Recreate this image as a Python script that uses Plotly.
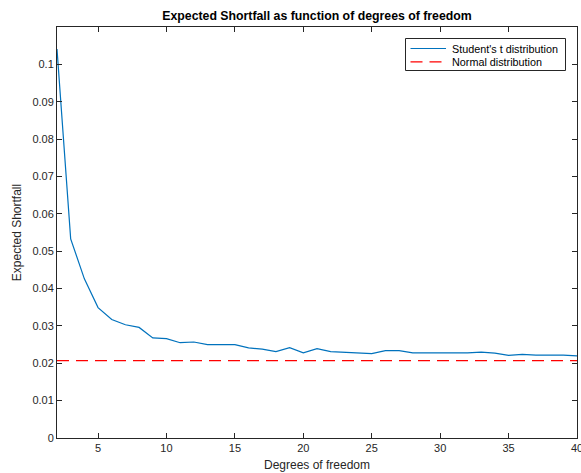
import plotly.graph_objects as go

dof = list(range(2, 41))
es_t = [0.1041, 0.0533, 0.0426, 0.0349, 0.0317, 0.0303, 0.0296, 0.0268, 0.0266, 0.0255,
        0.0257, 0.0250, 0.0250, 0.0250, 0.0241, 0.0238, 0.0231, 0.0242, 0.0228, 0.0239,
        0.0231, 0.0229, 0.0229, 0.0226, 0.0234, 0.0234, 0.0228, 0.0228, 0.0227, 0.0226,
        0.0228, 0.0230, 0.0227, 0.0221, 0.0224, 0.0222, 0.0223, 0.0222, 0.0220]
es_normal = [0.0207] * len(dof)

title = "Expected Shortfall as function of degrees of freedom"
xlabel = "Degrees of freedom"
ylabel = "Expected Shortfall"
series_names = ["Student's t distribution", "Normal distribution"]
series_colors = ["#0072BD", "#FF0000"]
series_dash = ["solid", "12px,7px"]
xticks = [5, 10, 15, 20, 25, 30, 35, 40]
yticks = [0, 0.01, 0.02, 0.03, 0.04, 0.05, 0.06, 0.07, 0.08, 0.09, 0.1]
yticktext = ["0", "0.01", "0.02", "0.03", "0.04", "0.05", "0.06", "0.07", "0.08", "0.09", "0.1"]

FONT = "Liberation Sans, Arial, Helvetica, sans-serif"
AX = "#262626"
W, H = 581, 473
ML, MR, MT, MB = 57, 4, 27, 35
PW, PH = W - ML - MR, H - MT - MB


def px(xp):
    return (xp - ML) / PW


def py(yp):
    return (H - MB - yp) / PH


fig = go.Figure()
for name, yv, col, dash in zip(series_names, [es_t, es_normal], series_colors, series_dash):
    fig.add_trace(go.Scatter(x=dof, y=yv, mode="lines", name=name,
                             line=dict(color=col, width=1.2, dash=dash)))

axis_common = dict(showline=True, linecolor=AX, linewidth=1, mirror="ticks",
                   ticks="inside", ticklen=5, tickcolor=AX, showgrid=False, zeroline=False,
                   tickfont=dict(family=FONT, size=11, color=AX))

# manual legend (MATLAB-style compact box)
shapes = [dict(type="rect", xref="paper", yref="paper",
               x0=px(405.5), x1=px(565.5), y0=py(70.5), y1=py(38.5),
               line=dict(color=AX, width=1), fillcolor="white", layer="above")]
annotations = []
for i, (name, col, dash) in enumerate(zip(series_names, series_colors, series_dash)):
    yy = 48.5 + i * 13.3
    shapes.append(dict(type="line", xref="paper", yref="paper",
                       x0=px(410.5), x1=px(446), y0=py(yy), y1=py(yy),
                       line=dict(color=col, width=1.2, dash=dash), layer="above"))
    annotations.append(dict(text=name, xref="paper", yref="paper", x=px(450), y=py(yy),
                            xanchor="left", yanchor="middle", showarrow=False,
                            font=dict(family=FONT, size=10.8, color="black")))

fig.update_layout(
    width=W, height=H,
    margin=dict(l=ML, r=MR, t=MT, b=MB),
    paper_bgcolor="white", plot_bgcolor="white",
    font=dict(family=FONT, color=AX),
    title=dict(text="<b>" + title + "</b>", x=0.5, xanchor="center", xref="paper",
               y=1 - 16 / H, yanchor="middle", font=dict(size=12.3, color="black")),
    xaxis=dict(range=[2, 40], tickvals=xticks, ticklabeloverflow="allow", automargin=False,
               title=dict(text=xlabel, font=dict(size=12, color=AX), standoff=7),
               **axis_common),
    yaxis=dict(range=[0, 0.11], tickvals=yticks, ticktext=yticktext, automargin=False,
               title=dict(text=ylabel, font=dict(size=12, color=AX), standoff=8),
               **axis_common),
    shapes=shapes,
    annotations=annotations,
    showlegend=False,
)

fig.write_html("out.html")
